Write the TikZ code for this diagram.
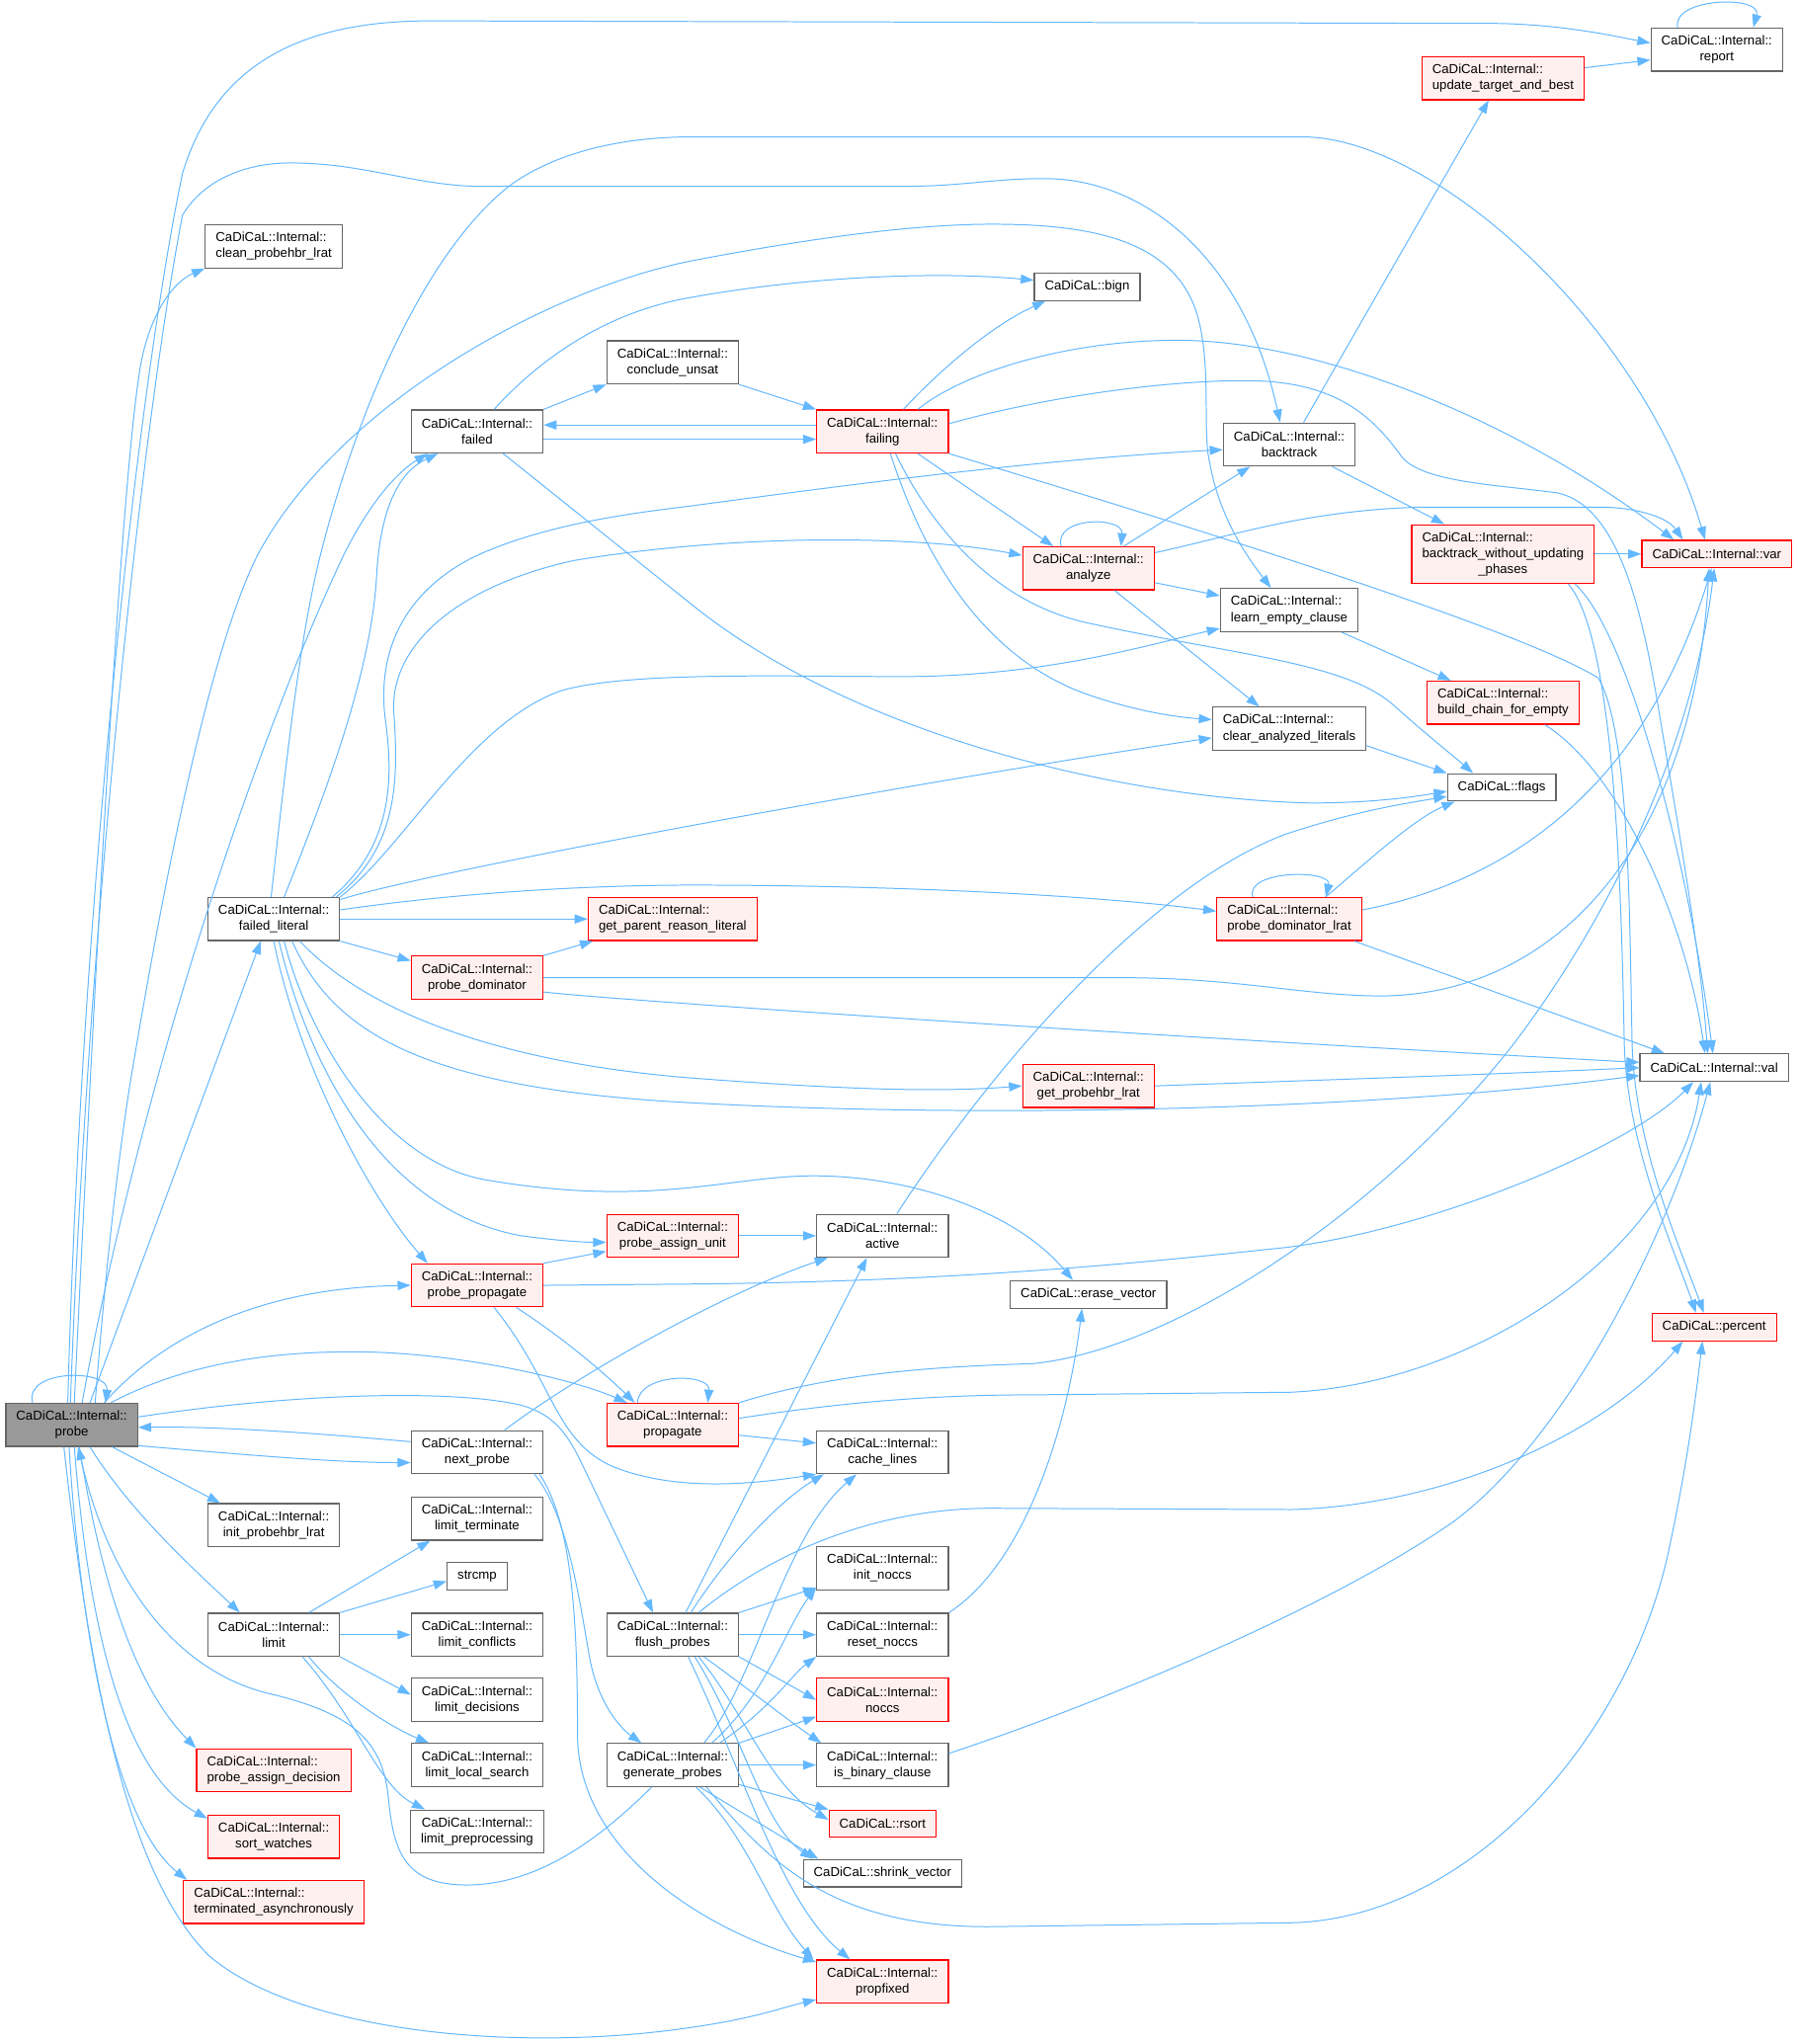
\documentclass[tikz,border=0pt]{standalone}
\usepackage{fontspec}
\setmainfont{Liberation Sans}
\usepackage{xcolor}
\usepackage{tikz}
\usetikzlibrary{arrows.meta}
\definecolor{edgeblue}{HTML}{63B8FF}
\definecolor{boxgray}{HTML}{666666}
\definecolor{redfill}{HTML}{FFF0F0}
\definecolor{probefill}{HTML}{999999}

\begin{document}
\begin{tikzpicture}[x=1pt, y=-1pt,
  fn/.style={draw=boxgray, line width=0.9pt, fill=white, align=center,
             inner xsep=8pt, inner ysep=2pt, minimum height=33pt,
             font=\fontsize{10}{12.2}\selectfont},
  fnred/.style={fn, draw=red, fill=redfill},
  lft/.style={align=left},
  one/.style={minimum height=21pt},
  call/.style={draw=edgeblue, line width=0.75pt, -{Triangle[length=10pt,width=7pt]}}
]
\path[fill=white] (0,0) rectangle (1379,1568);
\useasboundingbox (0,0) rectangle (1379,1568);

\node[fn, fill=probefill] (probe) at (55,1093) {CaDiCaL::Internal::\\probe};
\node[fn, lft] (cleanlrat) at (210,189) {CaDiCaL::Internal::\\clean\_probehbr\_lrat};
\node[fn] (failedlit) at (210,705) {CaDiCaL::Internal::\\failed\_literal};
\node[fn] (initlrat) at (210,1170) {CaDiCaL::Internal::\\init\_probehbr\_lrat};
\node[fn] (limit) at (210,1254) {CaDiCaL::Internal::\\limit};
\node[fnred, lft] (assigndec) at (210,1358) {CaDiCaL::Internal::\\probe\_assign\_decision};
\node[fnred] (sortw) at (210,1409) {CaDiCaL::Internal::\\sort\_watches};
\node[fnred, lft] (termasync) at (210,1459) {CaDiCaL::Internal::\\terminated\_asynchronously};
\node[fn] (failed) at (366,331) {CaDiCaL::Internal::\\failed};
\node[fnred] (probedom) at (366,750) {CaDiCaL::Internal::\\probe\_dominator};
\node[fnred] (probeprop) at (366,986) {CaDiCaL::Internal::\\probe\_propagate};
\node[fn] (nextprobe) at (366,1114) {CaDiCaL::Internal::\\next\_probe};
\node[fn] (limterm) at (366,1165) {CaDiCaL::Internal::\\limit\_terminate};
\node[fn, one] (strcmp) at (366,1209) {strcmp};
\node[fn] (limconf) at (366,1254) {CaDiCaL::Internal::\\limit\_conflicts};
\node[fn] (limdec) at (366,1304) {CaDiCaL::Internal::\\limit\_decisions};
\node[fn] (limlocal) at (366,1354) {CaDiCaL::Internal::\\limit\_local\_search};
\node[fn] (limpre) at (366,1405) {CaDiCaL::Internal::\\limit\_preprocessing};
\node[fn] (conclude) at (516,278) {CaDiCaL::Internal::\\conclude\_unsat};
\node[fnred, lft] (parentreason) at (516,705) {CaDiCaL::Internal::\\get\_parent\_reason\_literal};
\node[fnred] (assignunit) at (516,948) {CaDiCaL::Internal::\\probe\_assign\_unit};
\node[fnred] (propagate) at (516,1093) {CaDiCaL::Internal::\\propagate};
\node[fn] (flush) at (516,1254) {CaDiCaL::Internal::\\flush\_probes};
\node[fn] (genprobes) at (516,1354) {CaDiCaL::Internal::\\generate\_probes};
\node[fn, one] (bign) at (834,220) {CaDiCaL::bign};
\node[fnred] (failing) at (677,331) {CaDiCaL::Internal::\\failing};
\node[fn] (active) at (677,948) {CaDiCaL::Internal::\\active};
\node[fn] (cachelines) at (677,1114) {CaDiCaL::Internal::\\cache\_lines};
\node[fn] (initnoccs) at (677,1203) {CaDiCaL::Internal::\\init\_noccs};
\node[fn] (resetnoccs) at (677,1254) {CaDiCaL::Internal::\\reset\_noccs};
\node[fnred] (noccs) at (677,1304) {CaDiCaL::Internal::\\noccs};
\node[fn] (isbin) at (677,1354) {CaDiCaL::Internal::\\is\_binary\_clause};
\node[fnred, one] (rsort) at (677,1399) {CaDiCaL::rsort};
\node[fn, one] (shrink) at (677,1437) {CaDiCaL::shrink\_vector};
\node[fnred] (propfixed) at (677,1520) {CaDiCaL::Internal::\\propfixed};
\node[fnred] (analyze) at (835,436) {CaDiCaL::Internal::\\analyze};
\node[fn, one] (erasevec) at (835,993) {CaDiCaL::erase\_vector};
\node[fnred] (getlrat) at (835,833) {CaDiCaL::Internal::\\get\_probehbr\_lrat};
\node[fn] (backtrack) at (989,341) {CaDiCaL::Internal::\\backtrack};
\node[fn, lft] (learnempty) at (989,468) {CaDiCaL::Internal::\\learn\_empty\_clause};
\node[fn, lft] (clearlits) at (989,559) {CaDiCaL::Internal::\\clear\_analyzed\_literals};
\node[fnred, lft] (domlrat) at (989,705) {CaDiCaL::Internal::\\probe\_dominator\_lrat};
\node[fn, one] (flags) at (1152,604) {CaDiCaL::flags};
\node[fnred, lft] (update) at (1153,60) {CaDiCaL::Internal::\\update\_target\_and\_best};
\node[fnred, lft, minimum height=45pt] (bwup) at (1153,425) {CaDiCaL::Internal::\\backtrack\_without\_updating\\\hspace*{43pt}\_phases};
\node[fnred, lft] (buildchain) at (1153,539) {CaDiCaL::Internal::\\build\_chain\_for\_empty};
\node[fn] (report) at (1317,38) {CaDiCaL::Internal::\\report};
\node[fnred, one] (var) at (1317,425) {CaDiCaL::Internal::var};
\node[fn, one] (val) at (1315,819) {CaDiCaL::Internal::val};
\node[fnred, one] (percent) at (1315,1018) {CaDiCaL::percent};

\draw[call] ([xshift=-30]probe.north) .. controls (18,1050) and (84,1050) .. ([xshift=26]probe.north);
\draw[call] ([xshift=-3]probe.north) .. controls (62,700) and (105,300) .. (140,133) .. controls (165,50) and (230,16) .. (330,16) -- (1150,18) .. controls (1200,19) and (1240,28) .. ([yshift=5]report.west);
\draw[call] ([xshift=2]probe.north) .. controls (75,700) and (95,330) .. (110,270) .. controls (120,230) and (138,214) .. (cleanlrat.south west);
\draw[call] ([xshift=-1]probe.north) .. controls (68,700) and (110,320) .. (140,165) .. controls (155,140) and (185,125) .. (223,125) .. controls (280,125) and (320,143) .. (370,143) -- (690,143) .. controls (740,143) and (760,137) .. (801,137) .. controls (880,137) and (955,200) .. ([xshift=-7]backtrack.north);
\draw[call] ([xshift=18]probe.north) .. controls (82,960) and (92,880) .. (100,830) .. controls (125,680) and (160,500) .. (198,425) .. controls (260,310) and (420,222) .. (531,200) .. controls (620,183) and (700,172) .. (761,172) .. controls (840,172) and (900,185) .. (918,240) .. controls (930,280) and (922,330) .. (928,355) .. controls (935,395) and (955,425) .. ([xshift=-14]learnempty.north);
\draw[call] ([xshift=8]probe.north) .. controls (110,820) and (200,560) .. (264,425) .. controls (284,385) and (305,362) .. ([xshift=-38]failed.south);
\draw[call] ([xshift=14]probe.north) -- ([xshift=-10]failedlit.south);
\draw[call] ([xshift=25]probe.north) .. controls (125,1025) and (200,988) .. (probeprop.west);
\draw[call] ([xshift=30]probe.north) .. controls (150,1042) and (220,1037) .. (271,1037) .. controls (350,1037) and (440,1058) .. ([xshift=-35]propagate.north);
\draw[call] ([yshift=6]probe.east) .. controls (230,1068) and (350,1066) .. (400,1078) .. controls (425,1085) and (435,1100) .. (445,1120) -- ([xshift=-15]flush.north);
\draw[call] ([yshift=-16]probe.east) .. controls (200,1117) and (260,1122) .. ([yshift=-8]nextprobe.west);
\draw[call] ([yshift=8]nextprobe.west) .. controls (250,1100) and (170,1094) .. ([yshift=-2]probe.east);
\draw[call] ([xshift=31]probe.south) -- ([xshift=-41]initlrat.north);
\draw[call] ([xshift=14]probe.south) .. controls (100,1160) and (150,1205) .. ([xshift=-26]limit.north);
\draw[call] ([xshift=6]probe.south) .. controls (75,1200) and (100,1290) .. (assigndec.north west);
\draw[call] ([xshift=2]probe.south) .. controls (68,1250) and (95,1360) .. ([yshift=-3]sortw.north west);
\draw[call] ([xshift=-2]probe.south) .. controls (62,1260) and (90,1400) .. ([xshift=3]termasync.north west);
\draw[call] ([xshift=-6]probe.south) .. controls (70,1300) and (100,1440) .. (160,1500) .. controls (230,1560) and (400,1575) .. (532,1555) .. controls (580,1548) and (600,1540) .. ([yshift=3]propfixed.south west);
\draw[call] ([xshift=-16]genprobes.south) .. controls (470,1400) and (420,1446) .. (358,1446) .. controls (310,1446) and (302,1420) .. (298,1380) .. controls (294,1335) and (270,1315) .. (210,1300) .. controls (140,1285) and (85,1220) .. ([xshift=5]probe.south);

\draw[call] ([xshift=21]nextprobe.north) .. controls (450,1050) and (560,990) .. ([xshift=-42]active.south);
\draw[call] ([xshift=44]nextprobe.south) .. controls (435,1160) and (445,1230) .. (452,1270) .. controls (458,1305) and (475,1325) .. ([xshift=-24]genprobes.north);
\draw[call] ([xshift=48]nextprobe.south) .. controls (440,1170) and (443,1250) .. (443,1330) .. controls (443,1420) and (540,1480) .. ([yshift=-2]propfixed.north west);

\draw[call] ([xshift=24]genprobes.north) .. controls (580,1290) and (600,1180) .. ([xshift=-20]cachelines.south);
\draw[call] ([xshift=30]genprobes.north) .. controls (588,1300) and (602,1250) .. ([yshift=2]initnoccs.south west);
\draw[call] ([xshift=36]genprobes.north) .. controls (592,1310) and (607,1285) .. (resetnoccs.south west);
\draw[call] (genprobes.north east) -- ([yshift=4]noccs.south west);
\draw[call] (genprobes.east) -- (isbin.west);
\draw[call] ([yshift=2]genprobes.south east) -- (rsort.north west);
\draw[call] ([xshift=21]genprobes.south) -- ([xshift=12]shrink.north west);
\draw[call] ([xshift=18]genprobes.south) .. controls (575,1410) and (590,1465) .. ([xshift=-2]propfixed.north west);
\draw[call] ([xshift=26]genprobes.south) .. controls (590,1430) and (640,1478) .. (758,1478) -- (990,1475) .. controls (1130,1472) and (1250,1330) .. (1280,1190) .. controls (1295,1120) and (1301,1070) .. ([xshift=-9]percent.south);

\draw[call] ([xshift=10]flush.north) -- ([xshift=-12]active.south);
\draw[call] ([xshift=14]flush.north) .. controls (560,1190) and (600,1150) .. ([xshift=-45]cachelines.south);
\draw[call] ([xshift=20]flush.north) .. controls (600,1185) and (680,1157) .. (760,1157) -- (990,1158) .. controls (1110,1155) and (1230,1100) .. ([xshift=-24]percent.south);
\draw[call] (flush.north east) -- ([yshift=2]initnoccs.south west);
\draw[call] (flush.east) -- (resetnoccs.west);
\draw[call] (flush.south east) -- (noccs.west);
\draw[call] ([xshift=24]flush.south) .. controls (580,1300) and (605,1320) .. ([xshift=-47]isbin.north);
\draw[call] ([xshift=20]flush.south) .. controls (575,1320) and (590,1370) .. ([yshift=3]rsort.west);
\draw[call] ([xshift=17]flush.south) .. controls (570,1330) and (585,1400) .. ([xshift=8]shrink.north west);
\draw[call] ([xshift=12]flush.south) .. controls (570,1360) and (600,1460) .. ([xshift=-25]propfixed.north);

\draw[call] ([xshift=27]limit.north) -- ([xshift=-36]limterm.south);
\draw[call] (limit.north east) -- ([yshift=-4]strcmp.west);
\draw[call] (limit.east) -- (limconf.west);
\draw[call] (limit.south east) -- ([yshift=4]limdec.west);
\draw[call] ([xshift=27]limit.south) .. controls (260,1300) and (300,1325) .. ([xshift=-37]limlocal.north);
\draw[call] ([xshift=22]limit.south) .. controls (275,1320) and (290,1370) .. ([xshift=-40]limpre.north);

\draw[call] ([xshift=8]failedlit.north) .. controls (245,620) and (285,520) .. (289,440) .. controls (292,390) and (306,362) .. ([xshift=-30]failed.south);
\draw[call] ([xshift=-2]failedlit.north) .. controls (222,560) and (232,480) .. (246,425) .. controls (270,330) and (320,200) .. (389,144) .. controls (420,120) and (470,105) .. (531,105) -- (999,105) .. controls (1100,105) and (1260,250) .. ([xshift=-9]var.north);
\draw[call] ([xshift=-6]failedlit.north east) .. controls (300,650) and (302,600) .. (296,555) .. controls (288,500) and (310,455) .. (362,428) .. controls (420,400) and (500,392) .. (531,388) .. controls (650,372) and (800,352) .. ([yshift=-4]backtrack.west);
\draw[call] ([xshift=-3]failedlit.north east) .. controls (305,650) and (306,600) .. (302,545) .. controls (300,495) and (350,450) .. (440,430) .. controls (560,410) and (700,410) .. ([yshift=10]analyze.west);
\draw[call] (failedlit.north east) .. controls (310,650) and (360,555) .. (430,530) .. controls (480,515) and (600,519) .. (693,519) .. controls (800,519) and (880,495) .. ([yshift=-14]learnempty.west);
\draw[call] ([yshift=-2]failedlit.north east) .. controls (330,668) and (700,600) .. ([yshift=-7]clearlits.west);
\draw[call] ([yshift=7]failedlit.east) .. controls (350,685) and (450,679) .. (531,679) .. controls (700,679) and (850,688) .. ([yshift=6]domlrat.west);
\draw[call] (failedlit.east) -- (parentreason.west);
\draw[call] (failedlit.south east) -- ([yshift=13]probedom.west);
\draw[call] ([xshift=20]failedlit.south) .. controls (280,775) and (380,815) .. (531,827) .. controls (650,836) and (720,838) .. (getlrat.west);
\draw[call] ([xshift=14]failedlit.south) .. controls (255,790) and (320,835) .. (531,846) .. controls (750,858) and (1050,852) .. ([yshift=-6]val.west);
\draw[call] ([xshift=8]failedlit.south) .. controls (235,790) and (290,890) .. (372,905) .. controls (500,927) and (560,902) .. (624,902) .. controls (700,902) and (780,930) .. ([xshift=-12]erasevec.north);
\draw[call] ([xshift=4]failedlit.south) .. controls (240,830) and (300,930) .. (400,948) .. controls (430,952) and (450,953) .. ([yshift=-5]assignunit.west);
\draw[call] (failedlit.south) .. controls (230,820) and (285,920) .. ([xshift=-38]probeprop.north);

\draw[call] (probedom.north east) -- ([xshift=4]parentreason.south west);
\draw[call] (probedom.east) -- (860,750) .. controls (950,750) and (1000,764) .. (1061,764) .. controls (1200,762) and (1300,640) .. ([xshift=-6]var.south);
\draw[call] ([yshift=-11]probedom.east) .. controls (480,768) and (900,796) .. ([yshift=4]val.west);
\draw[call] (getlrat.east) .. controls (1000,829) and (1150,824) .. (val.west);

\draw[call] (failed.north east) -- (conclude.south west);
\draw[call] ([yshift=-6]failed.east) -- ([yshift=-6]failing.west);
\draw[call] ([yshift=5]failing.west) -- ([yshift=5]failed.east);
\draw[call] ([xshift=13]failed.north) .. controls (410,280) and (460,240) .. (531,228) .. controls (620,212) and (720,208) .. ([yshift=5]bign.west);
\draw[call] ([xshift=20]failed.south) -- (531,464) .. controls (650,560) and (850,612) .. (1005,616) .. controls (1050,616) and (1080,612) .. ([yshift=-3]flags.west);
\draw[call] (conclude.south east) -- (failing.north west);

\draw[call] ([xshift=16]failing.north) .. controls (720,285) and (760,250) .. ([xshift=-32]bign.south);
\draw[call] ([xshift=27]failing.north) .. controls (740,285) and (820,261) .. (903,261) .. controls (1010,261) and (1160,320) .. ([xshift=-33]var.north);
\draw[call] ([yshift=6]failing.east) .. controls (800,305) and (890,292) .. (955,292) .. controls (1020,292) and (1050,315) .. (1075,350) .. controls (1090,370) and (1150,372) .. (1194,378) .. controls (1245,388) and (1262,480) .. (1275,560) .. controls (1292,660) and (1305,740) .. ([xshift=-5]val.north);
\draw[call] ([xshift=27]failing.south) -- ([xshift=-27]analyze.north);
\draw[call] ([xshift=6]failing.south) .. controls (700,400) and (740,500) .. (835,533) .. controls (870,545) and (900,550) .. ([yshift=7]clearlits.west);
\draw[call] ([xshift=10]failing.south) .. controls (712,400) and (760,462) .. (835,478) .. controls (950,503) and (1030,508) .. (1068,540) .. controls (1090,560) and (1115,580) .. ([xshift=-22]flags.north);
\draw[call] (failing.south east) .. controls (900,400) and (1160,480) .. (1226,520) .. controls (1250,560) and (1250,700) .. (1252,800) .. controls (1254,880) and (1290,960) .. ([xshift=-8]percent.north);

\draw[call] ([xshift=-21]analyze.north) .. controls (808,396) and (862,396) .. ([xshift=25]analyze.north);
\draw[call] ([xshift=27]analyze.north) -- ([xshift=-30]backtrack.south);
\draw[call] ([yshift=-11]analyze.east) -- ([yshift=11]learnempty.west);
\draw[call] ([xshift=20]analyze.south) -- ([xshift=-23]clearlits.north);
\draw[call] ([yshift=12]analyze.east) .. controls (950,410) and (1000,392) .. (1089,389) -- (1230,389) .. controls (1260,390) and (1280,398) .. ([xshift=-26]var.north);

\draw[call] ([xshift=11]backtrack.north) -- ([xshift=-11]update.south);
\draw[call] ([xshift=33]backtrack.south) -- ([xshift=-45]bwup.north);
\draw[call] ([yshift=8]update.east) -- ([yshift=-8]report.west);
\draw[call] ([xshift=-30]report.north) .. controls (1282,-2) and (1352,-4) .. ([xshift=28]report.north);
\draw[call] (bwup.east) -- (var.west);
\draw[call] ([xshift=55]bwup.south) .. controls (1245,480) and (1292,640) .. ([xshift=-1]val.north);
\draw[call] ([xshift=50]bwup.south) .. controls (1240,490) and (1244,700) .. (1246,800) .. controls (1248,880) and (1285,960) .. ([xshift=-14]percent.north);
\draw[call] ([xshift=40]learnempty.south) -- ([xshift=-40]buildchain.north);
\draw[call] ([xshift=32]buildchain.south) .. controls (1240,590) and (1292,700) .. ([xshift=-7]val.north);
\draw[call] ([yshift=-13]clearlits.east) -- (flags.north west);

\draw[call] ([xshift=-28]domlrat.north) .. controls (955,667) and (1022,667) .. ([xshift=28]domlrat.north);
\draw[call] ([xshift=28]domlrat.north) .. controls (1050,660) and (1085,628) .. ([xshift=-36]flags.south);
\draw[call] ([yshift=7]domlrat.east) .. controls (1150,678) and (1260,610) .. ([xshift=-4]var.south);
\draw[call] ([xshift=50]domlrat.south) -- ([xshift=-38]val.north);

\draw[call] (probeprop.north east) -- ([yshift=-12]assignunit.west);
\draw[call] ([xshift=30]probeprop.south) .. controls (430,1025) and (460,1050) .. ([xshift=-29]propagate.north);
\draw[call] ([xshift=13]probeprop.south) .. controls (425,1060) and (425,1105) .. (470,1125) .. controls (520,1145) and (580,1138) .. (cachelines.south west);
\draw[call] (probeprop.east) -- (531,985) .. controls (750,983) and (900,966) .. (986,957) .. controls (1100,943) and (1250,880) .. ([xshift=-16]val.south);
\draw[call] (assignunit.east) -- (active.west);
\draw[call] ([xshift=11]active.north) .. controls (760,820) and (880,680) .. (986,640) .. controls (1040,622) and (1080,616) .. ([yshift=-7]flags.west);

\draw[call] ([xshift=-27]propagate.north) .. controls (490,1053) and (545,1053) .. ([xshift=27]propagate.north);
\draw[call] ([yshift=-8]propagate.east) -- ([yshift=7]cachelines.west);
\draw[call] (propagate.north east) .. controls (650,1050) and (740,1048) .. (793,1046) .. controls (900,1035) and (1060,930) .. (1161,801) .. controls (1245,690) and (1300,560) .. ([xshift=-2]var.south);
\draw[call] ([yshift=5]propagate.east) .. controls (650,1075) and (720,1070) .. (793,1070) -- (990,1068) .. controls (1130,1062) and (1285,960) .. ([xshift=-10]val.south);
\draw[call] ([yshift=9]isbin.east) .. controls (820,1315) and (1010,1240) .. (1114,1168) .. controls (1200,1105) and (1280,950) .. ([xshift=-3]val.south);
\draw[call] (resetnoccs.north east) .. controls (785,1200) and (818,1100) .. ([xshift=-5]erasevec.south);
\end{tikzpicture}
\end{document}
